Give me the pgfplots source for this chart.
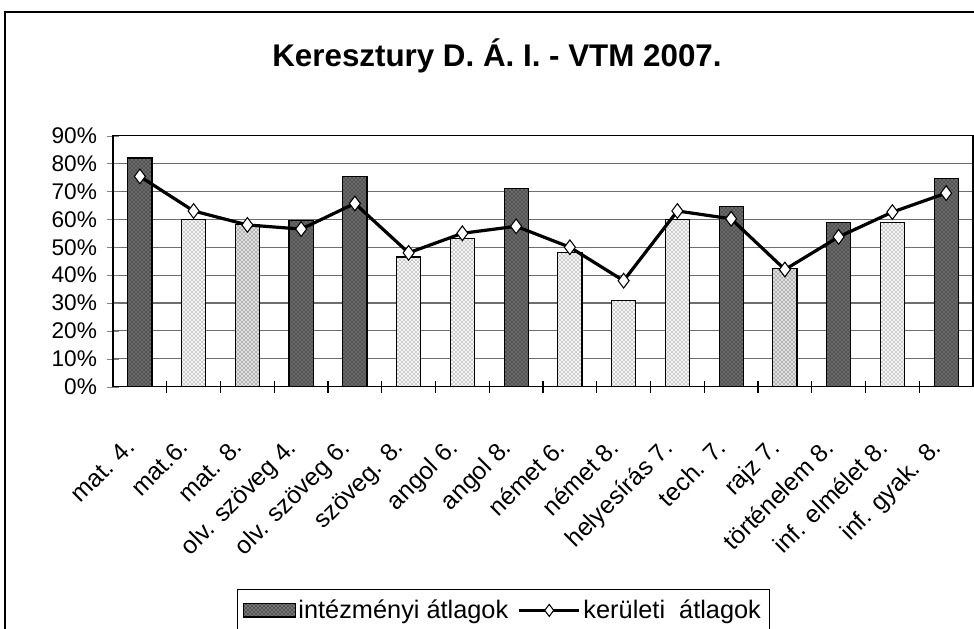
\documentclass[border=0pt]{standalone}
\usepackage{pgfplots}
\pgfplotsset{compat=1.18}
\usepackage{fontspec}
\setmainfont{Liberation Sans}
\usetikzlibrary{patterns}

\definecolor{barDark}{RGB}{84,84,84}
\definecolor{gridGray}{RGB}{110,110,110}

\begin{document}
\begin{tikzpicture}
\begin{axis}[
  at={(0pt,0pt)}, anchor=south west,
  width=645pt, height=188.25pt, scale only axis,
  xmin=-0.5, xmax=15.5, ymin=0, ymax=90,
  xtick={0,...,15},
  xticklabels={mat. 4., mat.6., mat. 8., olv. szöveg 4., olv. szöveg 6., szöveg. 8., angol 6., angol 8., német 6., német 8., helyesírás 7., tech. 7., rajz 7., történelem  8., inf. elmélet 8., inf. gyak. 8.},
  xticklabel style={yshift=-28pt, xshift=-12pt, rotate=45, anchor=north east, font=\fontsize{18.5}{18.5}\selectfont},
  major x tick style={draw=none},
  minor xtick={0.5,1.5,...,14.5},
  minor x tick style={black, line width=0.8pt},
  minor tick length=9pt,
  xtick pos=bottom,
  ytick={0,10,...,90},
  yticklabel={\pgfmathprintnumber{\tick}\%},
  yticklabel style={font=\fontsize{17}{17}\selectfont, xshift=-4pt},
  ytick pos=left,
  tick align=center,
  major tick length=9pt,
  /pgf/number format/assume math mode=true,
  ymajorgrids,
  major grid style={gridGray, line width=0.8pt},
  axis line style={black, line width=0.9pt},
  title={Keresztury D. Á. I. - VTM 2007.},
  title style={at={(0.4465,1.2855)}, anchor=center, font=\bfseries\fontsize{23.5}{23.5}\selectfont},
  legend columns=2,
  legend style={at={(0.1442,-0.806)}, anchor=north west, draw=black, line width=0.6pt,
    font=\fontsize{19}{19}\selectfont, inner xsep=4pt, inner ysep=6pt,
    /tikz/every even column/.append style={column sep=5pt}},
  legend cell align=left,
]
% intezmenyi atlagok, dark bars
\addplot[ybar, bar width=0.45, bar shift=0pt, draw=black, line width=0.8pt, fill=barDark,
  postaction={pattern=crosshatch dots, pattern color=gray!60},
  legend image code/.code={\draw[draw=none, fill=barDark, postaction={pattern=crosshatch dots, pattern color=gray!75}] (0pt,-5pt) rectangle (39pt,5pt);}]
  coordinates {(0,82) (3,59.5) (4,75.5) (7,71) (11,64.5) (13,59) (15,74.5)};
\addlegendentry{intézményi átlagok}
% light cross-hatched bars
\addplot[ybar, bar width=0.45, bar shift=0pt, draw=black, line width=0.8pt, fill=gray!8,
  postaction={pattern=crosshatch dots, pattern color=black!70}, forget plot]
  coordinates {(1,60) (5,46.5) (6,53) (8,48) (9,31) (10,60) (14,59)};
% speckled bars
\addplot[ybar, bar width=0.45, bar shift=0pt, draw=black, line width=0.8pt, fill=gray!25,
  postaction={pattern=crosshatch dots, pattern color=black!85}, forget plot]
  coordinates {(2,58) (12,42.5)};
% keruleti atlagok
\addplot[black, line width=2.4pt, mark=diamond*, mark size=5.5pt,
  mark options={fill=white, draw=black, line width=0.8pt},
  legend image code/.code={\draw[black, line width=2.4pt] (0pt,0pt) -- (45pt,0pt);
    \draw[fill=white, draw=black, line width=0.8pt] (22.5pt,0pt) plot[mark=diamond*, mark size=4.5pt] coordinates {(22.5pt,0pt)};}]
  coordinates {(0,75.4) (1,63) (2,58) (3,56.5) (4,65.7) (5,48) (6,55) (7,57.5) (8,50) (9,38) (10,63) (11,60.2) (12,42) (13,53.7) (14,62.6) (15,69.4)};
\addlegendentry{kerületi \ átlagok}
\end{axis}
\draw[black, line width=0.8pt] (-81pt,-260pt) rectangle (720pt,281pt);
\pgfresetboundingbox
\useasboundingbox (-84.75pt,-181pt) rectangle (645.75pt,290pt);
\end{tikzpicture}
\end{document}
